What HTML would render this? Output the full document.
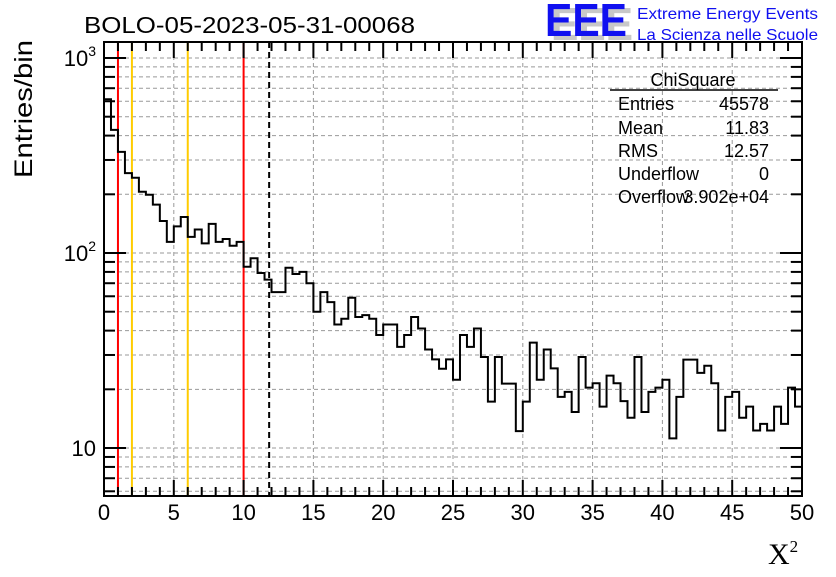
<!DOCTYPE html>
<html><head><meta charset="utf-8"><style>
body{margin:0;background:#fff}
svg text{font-family:"Liberation Sans",sans-serif}
svg text.serif{font-family:"Liberation Serif",serif}
</style></head><body>
<svg id="c" width="836" height="572" viewBox="0 0 836 572">
<rect width="836" height="572" fill="#fff"/>
<g id="grid"></g>
<g id="vlines"></g>
<path id="hist" fill="none" stroke="#000" stroke-width="2"/>
<g id="axes"></g>
<text x="84" y="33" font-size="23" textLength="331" lengthAdjust="spacingAndGlyphs">BOLO-05-2023-05-31-00068</text>
<g>
<text x="551" y="40" font-size="46" font-weight="bold" fill="#c8c8c8" textLength="82" lengthAdjust="spacingAndGlyphs">EEE</text>
<text x="545" y="36" font-size="46" font-weight="bold" fill="#1010f0" textLength="82" lengthAdjust="spacingAndGlyphs">EEE</text>
<text x="637" y="19" font-size="16" fill="#1010f0" textLength="181" lengthAdjust="spacingAndGlyphs">Extreme Energy Events</text>
<text x="637" y="40" font-size="16" fill="#1010f0" textLength="181" lengthAdjust="spacingAndGlyphs">La Scienza nelle Scuole</text>
</g>
<g font-size="18">
<text x="693" y="86" text-anchor="middle">ChiSquare</text>
<line x1="610" y1="90" x2="778" y2="90" stroke="#000" stroke-width="1.5"/>
<text x="618" y="110">Entries</text><text x="769" y="110" text-anchor="end">45578</text>
<text x="618" y="134">Mean</text><text x="769" y="134" text-anchor="end">11.83</text>
<text x="618" y="157">RMS</text><text x="769" y="157" text-anchor="end">12.57</text>
<text x="618" y="180">Underflow</text><text x="769" y="180" text-anchor="end">0</text>
<text x="618" y="203">Overflow</text><text x="769" y="203" text-anchor="end">3.902e+04</text>
</g>
<text transform="translate(32,178) rotate(-90)" font-size="25" textLength="138" lengthAdjust="spacingAndGlyphs">Entries/bin</text>
<text class="serif" x="768" y="564" font-size="30">X<tspan font-size="17" dy="-12">2</tspan></text>
</svg>
<script>
const counts=[614,428,330,257,243,206,199,177,146,114,137,153,121,132,112,141,114,118,109,114,
85,94,79,73,63,63,84,78,80,70,50,63,56,43,46,59,47,48,46,38,
43,43,33,38,47,41,32,28.5,25.5,28.5,22.4,38,33,41,29.3,17.3,29.3,21.4,21.4,12.2,
17.3,34.7,22.4,32,25.6,18.3,19.4,15.3,29.3,20.4,21.5,16.3,23.5,21.5,17.4,14.3,29.3,15.3,19.4,20.4,
22.4,11.2,18.3,28.4,28.4,24.3,26.4,21.5,12.3,18.3,19.4,14.3,16.3,12.3,13.3,12.3,16.3,13.3,20.4,16.3];
const binWidth=0.5;
const xTicks=[0,5,10,15,20,25,30,35,40,45,50];
const yMajor=[10,100,1000];
const yLabels=["10","10²","10³"];
const cutRed=[1,10];
const cutOrange=[2,6];
const meanLine=[11.83];
const L=104,R=802,T=42,B=496,xmin=0,xmax=50,lmin=0.754,lmax=3.082;
const X=v=>L+(v-xmin)/(xmax-xmin)*(R-L);
const Y=v=>B-(Math.log10(v)-lmin)/(lmax-lmin)*(B-T);
const NS="http://www.w3.org/2000/svg";
function mk(p,t,a){const e=document.createElementNS(NS,t);for(const k in a)e.setAttribute(k,a[k]);p.appendChild(e);return e;}
const grid=document.getElementById('grid'),axes=document.getElementById('axes'),vl=document.getElementById('vlines');
xTicks.forEach(v=>{if(v>xmin&&v<xmax){const g=mk(grid,'line',{x1:X(v),x2:X(v),y1:T,y2:B,stroke:'#999','stroke-dasharray':'4,3'});

}});
const ylogTicks=[];
for(let d=1;d<=1000;d*=10)for(let m=1;m<10;m++){const v=m*d;const l=Math.log10(v);if(l>lmin&&l<lmax)ylogTicks.push(v);}
ylogTicks.forEach(v=>{const g=mk(grid,'line',{x1:L,x2:R,y1:Y(v),y2:Y(v),stroke:'#999','stroke-dasharray':'4,3'});

});
cutRed.forEach(v=>{const e=mk(vl,'line',{x1:X(v),x2:X(v),y1:T,y2:B,stroke:'#f00','stroke-width':2});

});
cutOrange.forEach(v=>{const e=mk(vl,'line',{x1:X(v),x2:X(v),y1:T,y2:B,stroke:'#fc0','stroke-width':2});

});
meanLine.forEach(v=>{const e=mk(vl,'line',{x1:X(v),x2:X(v),y1:T,y2:B,stroke:'#000','stroke-width':2,'stroke-dasharray':'6,4'});

});
let d='M'+X(0)+','+Y(counts[0]);
counts.forEach((c,i)=>{const y=Y(c);d+=' L'+X(i*binWidth)+','+y+' L'+X((i+1)*binWidth)+','+y;});
document.getElementById('hist').setAttribute('d',d);
mk(axes,'rect',{x:L,y:T,width:R-L,height:B-T,fill:'none',stroke:'#000','stroke-width':2});
for(let v=xmin;v<=xmax;v+=1){const big=v%5===0;const h=big?16:9;
mk(axes,'line',{x1:X(v),x2:X(v),y1:B,y2:B-h,stroke:'#000','stroke-width':2});
mk(axes,'line',{x1:X(v),x2:X(v),y1:T,y2:T+h,stroke:'#000','stroke-width':2});}
xTicks.forEach(v=>{const t=mk(axes,'text',{x:X(v),y:520,'font-size':22,'text-anchor':'middle'});t.textContent=v;

});
ylogTicks.forEach(v=>{const big=yMajor.includes(v);const w=big?22:11;
mk(axes,'line',{x1:L,x2:L+w,y1:Y(v),y2:Y(v),stroke:'#000','stroke-width':2});
mk(axes,'line',{x1:R,x2:R-w,y1:Y(v),y2:Y(v),stroke:'#000','stroke-width':2});});
yMajor.forEach((v,i)=>{const t=mk(axes,'text',{x:96,y:Y(v)+8,'font-size':22,'text-anchor':'end'});
const s=yLabels[i];
if(s.length>2){t.textContent='10';const sp=mk(t,'tspan',{'font-size':14,dy:-10});sp.textContent=s==='10²'?'2':'3';}else t.textContent=s;

});
</script>
</body></html>
